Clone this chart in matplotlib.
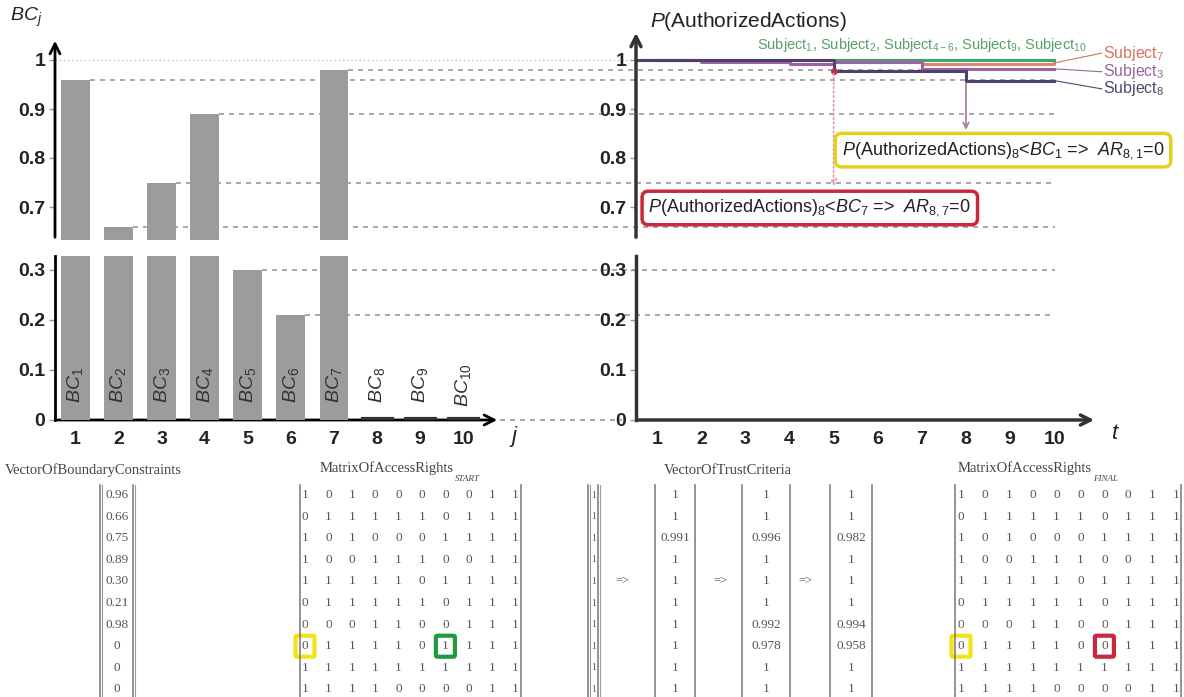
import numpy as np
import matplotlib.pyplot as plt
from matplotlib.patches import FancyBboxPatch

plt.rcParams['font.family'] = ['Liberation Sans', 'DejaVu Sans']
plt.rcParams['mathtext.fontset'] = 'custom'
plt.rcParams['mathtext.rm'] = 'Liberation Sans'
plt.rcParams['mathtext.it'] = 'Liberation Sans:italic'
plt.rcParams['mathtext.bf'] = 'Liberation Sans:bold'

# boundary constraints of the actions j
actions = np.arange(1, 11)
bc_values = [0.96, 0.66, 0.75, 0.89, 0.30, 0.21, 0.98, 0, 0, 0]

# P(AuthorizedActions) of the subjects over time t
times = np.arange(1, 11)
p_other = [1, 1, 1, 1, 1, 1, 1, 1, 1, 1]   # subjects 1, 2, 4-6, 9, 10
p_subj7 = [1, 1, 1, 1, 0.996, 0.996, 0.992, 0.992, 0.992, 0.994]
p_subj3 = [1, 0.996, 0.996, 0.991, 0.996, 0.996, 0.982, 0.982, 0.982, 0.982]
p_subj8 = [1, 1, 1, 1, 0.978, 0.978, 0.978, 0.958, 0.958, 0.958]

access_start = [
    [1, 0, 1, 0, 0, 0, 0, 0, 1, 1],
    [0, 1, 1, 1, 1, 1, 0, 1, 1, 1],
    [1, 0, 1, 0, 0, 0, 1, 1, 1, 1],
    [1, 0, 0, 1, 1, 1, 0, 0, 1, 1],
    [1, 1, 1, 1, 1, 0, 1, 1, 1, 1],
    [0, 1, 1, 1, 1, 1, 0, 1, 1, 1],
    [0, 0, 0, 1, 1, 0, 0, 1, 1, 1],
    [0, 1, 1, 1, 1, 0, 1, 1, 1, 1],
    [1, 1, 1, 1, 1, 1, 1, 1, 1, 1],
    [1, 1, 1, 1, 0, 0, 0, 0, 1, 1],
]
access_final = [
    [1, 0, 1, 0, 0, 0, 0, 0, 1, 1],
    [0, 1, 1, 1, 1, 1, 0, 1, 1, 1],
    [1, 0, 1, 0, 0, 0, 1, 1, 1, 1],
    [1, 0, 0, 1, 1, 1, 0, 0, 1, 1],
    [1, 1, 1, 1, 1, 0, 1, 1, 1, 1],
    [0, 1, 1, 1, 1, 1, 0, 1, 1, 1],
    [0, 0, 0, 1, 1, 0, 0, 1, 1, 1],
    [0, 1, 1, 1, 1, 0, 0, 1, 1, 1],
    [1, 1, 1, 1, 1, 1, 1, 1, 1, 1],
    [1, 1, 1, 1, 0, 0, 0, 0, 1, 1],
]
trust_0 = [1, 1, 1, 1, 1, 1, 1, 1, 1, 1]
trust_1 = [1, 1, 0.991, 1, 1, 1, 1, 1, 1, 1]
trust_2 = [1, 1, 0.996, 1, 1, 1, 0.992, 0.978, 1, 1]
trust_3 = [1, 1, 0.982, 1, 1, 1, 0.994, 0.958, 1, 1]

W, H = 1184, 697
fig = plt.figure(figsize=(W / 100, H / 100), dpi=100)


def box(x0, y0, x1, y1):
    return [x0 / W, 1 - y1 / H, (x1 - x0) / W, (y1 - y0) / H]


def upper_lim(ytop, ybot):
    return (1 - (ybot - 60) / 490, 1 + (60 - ytop) / 490)


ov = fig.add_axes([0, 0, 1, 1])
ov.set_xlim(0, W)
ov.set_ylim(H, 0)
ov.axis('off')

lt = fig.add_axes(box(55, 38, 500, 240))
lb = fig.add_axes(box(55, 256, 500, 420))
rt = fig.add_axes(box(636, 30, 1097, 240))
rb = fig.add_axes(box(636, 256, 1097, 420))

lt.set_ylim(*upper_lim(38, 240))
rt.set_ylim(*upper_lim(30, 240))
lb.set_ylim(0, 0.328)
rb.set_ylim(0, 0.328)
for a in (lt, lb):
    a.set_xlim(0.53, 10.85)
for a in (rt, rb):
    a.set_xlim(0.52, 10.97)

for a in (lt, lb, rt, rb):
    a.patch.set_visible(False)
    for s in a.spines.values():
        s.set_visible(False)
    a.tick_params(axis='y', direction='out', length=4, width=1, color='#999', pad=3)
    a.tick_params(axis='x', length=0, pad=8)
    a.set_xticks([])

for a in (lt, rt):
    a.set_yticks([0.7, 0.8, 0.9, 1], ['0.7', '0.8', '0.9', '1'], fontsize=14, fontweight='bold',
                 color='#222')
for a in (lb, rb):
    a.set_yticks([0, 0.1, 0.2, 0.3], ['0', '0.1', '0.2', '0.3'], fontsize=14, fontweight='bold',
                 color='#222')
lb.set_xticks(actions, [str(j) for j in actions], fontsize=14, fontweight='bold', color='#222')
rb.set_xticks(times, [str(t) for t in times], fontsize=14, fontweight='bold', color='#222')

# axes with arrows
lt.annotate('', xy=(0, 1), xytext=(0, 0), xycoords='axes fraction',
            arrowprops=dict(arrowstyle='->', lw=2, color='k', mutation_scale=18))
lb.plot([0, 0], [0, 1], transform=lb.transAxes, color='k', lw=2, clip_on=False)
lb.annotate('', xy=(1, 0), xytext=(0, 0), xycoords='axes fraction',
            arrowprops=dict(arrowstyle='->', lw=2, color='k', mutation_scale=18))
rt.annotate('', xy=(0, 1), xytext=(0, 0), xycoords='axes fraction',
            arrowprops=dict(arrowstyle='->', lw=2.5, color='#333', mutation_scale=18))
rb.plot([0, 0], [0, 1], transform=rb.transAxes, color='#333', lw=2.5, clip_on=False)
rb.annotate('', xy=(1, 0), xytext=(0, 0), xycoords='axes fraction',
            arrowprops=dict(arrowstyle='->', lw=2.5, color='#333', mutation_scale=18))

lt.text(-0.1, 1.1, r'$BC_j$', transform=lt.transAxes, fontsize=14, color='#222', va='center')
lb.text(1.02, -0.1, r'$j$', transform=lb.transAxes, fontsize=16, color='#222', va='center')
rt.text(0.03, 1.04, r'$P$(AuthorizedActions)', transform=rt.transAxes, fontsize=15,
        color='#222', va='center')
rb.text(1.03, -0.08, r'$t$', transform=rb.transAxes, fontsize=16, color='#222', va='center')

# bars
bw = 0.67
x_far = 0.53 + (1055 - 55) / 445 * (10.85 - 0.53)
for a in (lt, lb):
    a.bar(actions, bc_values, width=bw, color='#9c9c9c', zorder=3)
lt.plot([0.53, x_far], [1, 1], ls=(0, (1, 2)), color='#bbbbbb', lw=1, clip_on=False, zorder=1)
for j, v in zip(actions, bc_values):
    if v == 0:
        lb.plot([j - bw / 2, j + bw / 2], [0.003, 0.003], color='#333', lw=3, zorder=4)
    else:
        a = lt if v > 0.5 else lb
        a.plot([j + bw / 2, x_far], [v, v], ls=(0, (3, 3)), color='#9a9a9a', lw=1.2,
               clip_on=False, zorder=1)
    lb.text(j, 0.07, r'$BC_{%d}$' % j, rotation=90, ha='center', va='center',
            fontsize=14, color='#333', zorder=5)
lb.plot([10.85, 0.53 + (622 - 55) / 445 * (10.85 - 0.53)], [0, 0], ls=(0, (3, 3)),
        color='#9a9a9a', lw=1.2, clip_on=False)

# subjects
rt.step(times, p_other, where='post', color='#3aa56c', lw=2.2)
rt.step(times, p_subj7, where='post', color='#e3836f', lw=2.2)
rt.step(times, p_subj3, where='post', color='#9c62a4', lw=2.2)
rt.step(times, p_subj8, where='post', color='#4f4070', lw=2.2)
rt.plot([0.52, 1], [1, 1], color='#4f4070', lw=2.2)
rt.plot(5, p_subj8[4], 'o', ms=4, color='#c0304f')

rt.text(7.0, 1.031, r'Subject$_1$, Subject$_2$, Subject$_{4-6}$, Subject$_9$, Subject$_{10}$',
        ha='center', va='center', fontsize=10.5, color='#5a9e6e')
for v_end, v_lab, name, col in ((p_subj7[-1], 1.014, r'Subject$_7$', '#d9735e'),
                                (p_subj3[-1], 0.976, r'Subject$_3$', '#96679c'),
                                (p_subj8[-1], 0.941, r'Subject$_8$', '#54476e')):
    rt.plot([10, 11.08], [v_end, v_lab], color=col, lw=0.8, clip_on=False)
    rt.text(11.1, v_lab, name, fontsize=11.5, color=col, va='center', clip_on=False)

rt.annotate('', xy=(8, 0.852), xytext=(8, p_subj8[7]),
            arrowprops=dict(arrowstyle='->', color='#a07aa0', lw=1.2))
rt.annotate('', xy=(5, 0.737), xytext=(5, p_subj8[4]),
            arrowprops=dict(arrowstyle='->', color='#e58fb0', lw=1.2, ls=':'))

rt.text(8.84, 0.816, r'$P$(AuthorizedActions)$_8$<$BC_1$ =>  $AR_{8,1}$=0', ha='center',
        va='center', fontsize=13, color='#222',
        bbox=dict(boxstyle='round,pad=0.35', fc='white', ec='#e3d21c', lw=2.5))
rt.text(4.46, 0.698, r'$P$(AuthorizedActions)$_8$<$BC_7$ =>  $AR_{8,7}$=0', ha='center',
        va='center', fontsize=13, color='#222',
        bbox=dict(boxstyle='round,pad=0.35', fc='white', ec='#c8283c', lw=2.5))

# matrices below the charts
rows_y = 495 + 21.6 * np.arange(10)
serif = dict(family='Liberation Serif', color='#555', ha='center', va='center')


def bars(x, y0=485, y1=697, double=True):
    ov.plot([x, x], [y0, y1], color='#777', lw=1.1)
    if double:
        ov.plot([x + 2, x + 2], [y0, y1], color='#999', lw=0.8)


def cell_box(x, y, color):
    ov.add_patch(FancyBboxPatch((x - 8, y - 9), 16, 18, boxstyle='round,pad=1.5',
                                fc='none', ec=color, lw=3))


def title(x, y, main, sub=None):
    t = ov.text(x, y, main, family='Liberation Serif', fontsize=10.5, color='#444',
                ha='left', va='center')
    if sub:
        ov.annotate(sub, xy=(1, 0), xycoords=t, xytext=(1, 0), textcoords='offset points',
                    family='Liberation Serif', style='italic', fontsize=6.5, color='#444',
                    va='top')


title(5, 470, 'VectorOfBoundaryConstraints')
bars(100)
bars(133)
for y, v in zip(rows_y, bc_values):
    ov.text(117, y, '%.2f' % v if v else '0', fontsize=9.5, **serif)

title(320, 468, 'MatrixOfAccessRights', 'START')
bars(300, double=False)
bars(521, double=False)
for i, row in enumerate(access_start):
    for j, v in enumerate(row):
        ov.text(305 + 23.4 * j, rows_y[i], str(v), fontsize=9.5, **serif)
cell_box(305, rows_y[7], '#f0e418')
cell_box(305 + 23.4 * 6, rows_y[7], '#1f9a3e')

title(664, 470, 'VectorOfTrustCriteria')
bars(588)
bars(598)
for y, v in zip(rows_y, trust_0):
    ov.text(594, y, '%g' % v, fontsize=7, **serif)
for x in (622, 720, 805):
    ov.text(x, rows_y[4], '=>', fontsize=9, **serif)
for xl, xr, vec in ((655, 695, trust_1), (742, 790, trust_2), (830, 872, trust_3)):
    bars(xl, double=False)
    bars(xr, double=False)
    for y, v in zip(rows_y, vec):
        ov.text((xl + xr) / 2, y, '%g' % v, fontsize=9.5, **serif)

title(958, 468, 'MatrixOfAccessRights', 'FINAL')
bars(955, double=False)
bars(1181, double=False)
for i, row in enumerate(access_final):
    for j, v in enumerate(row):
        ov.text(961 + 23.9 * j, rows_y[i], str(v), fontsize=9.5, **serif)
cell_box(961, rows_y[7], '#f0e418')
cell_box(961 + 23.9 * 6, rows_y[7], '#c8283c')

fig.savefig('out.png', dpi=100)
